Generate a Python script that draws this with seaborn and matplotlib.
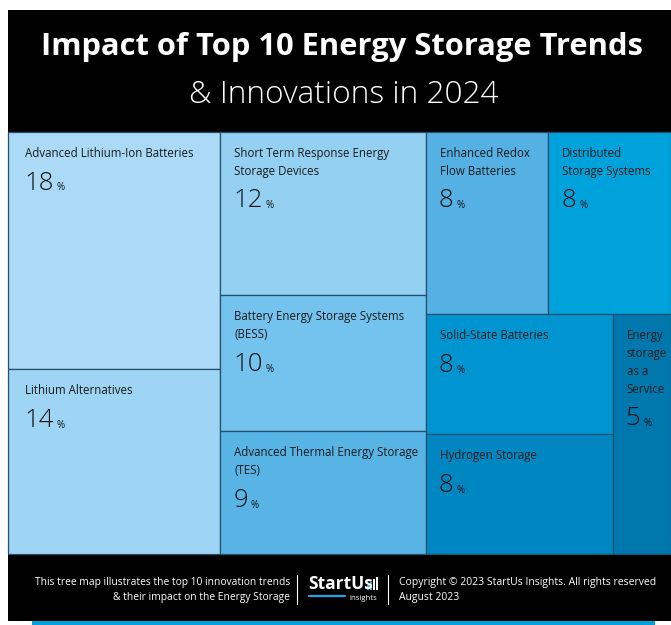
import matplotlib
matplotlib.use("Agg")
import matplotlib.pyplot as plt
import seaborn as sns
from matplotlib.patches import Rectangle

sns.set_theme(style="white")
plt.rcParams['font.family'] = ['Open Sans', 'DejaVu Sans']

# ---------------- data ----------------
trends = [
    "Advanced Lithium-Ion Batteries",
    "Lithium Alternatives",
    "Short Term Response Energy\nStorage Devices",
    "Battery Energy Storage Systems\n(BESS)",
    "Advanced Thermal Energy Storage\n(TES)",
    "Enhanced Redox\nFlow Batteries",
    "Distributed\nStorage Systems",
    "Solid-State Batteries",
    "Hydrogen Storage",
    "Energy\nstorage\nas a\nService",
]
impact = [18, 14, 12, 10, 9, 8, 8, 8, 8, 5]
colors = ["#ABDAF6", "#9ED4F4", "#94D0F2", "#74C3EE", "#57B4E5",
          "#55B1E3", "#00A2DB", "#0095D1", "#0086C0", "#0078AD"]

title1 = "Impact of Top 10 Energy Storage Trends"
title2 = "& Innovations in 2024"
foot_left = "This tree map illustrates the top 10 innovation trends\n& their impact on the Energy Storage"
foot_right = "Copyright \u00a9 2023 StartUs Insights. All rights reserved\nAugust 2023"

# treemap slicing structure (indices into the lists above)
tree = ('h', [('v', [0, 1]), ('v', [2, 3, 4]),
              ('v', [('h', [5, 6]), ('h', [('v', [7, 8]), 9])])])


def total(node):
    if isinstance(node, int):
        return impact[node]
    return sum(total(c) for c in node[1])


def layout(node, x, y, w, h, out):
    if isinstance(node, int):
        out[node] = (x, y, w, h)
        return
    d, kids = node
    t = total(node)
    pos = 0.0
    for k in kids:
        f = total(k) / t
        if d == 'h':
            layout(k, x + pos * w, y, f * w, h, out)
        else:
            layout(k, x, y + pos * h, w, f * h, out)
        pos += f


W, H = 671, 625
fig = plt.figure(figsize=(W / 100, H / 100), dpi=100)
ax = fig.add_axes([0, 0, 1, 1])
ax.set_xlim(0, W)
ax.set_ylim(H, 0)
ax.axis('off')
fig.patch.set_facecolor('white')

# black card
ax.add_patch(Rectangle((8, 10), W - 8, 611, facecolor='black', edgecolor='none', zorder=0))
ax.add_patch(Rectangle((32, 621), 623, 4, facecolor='#00A2DB', edgecolor='none', zorder=1))

ax.text(342, 47, title1, color='white', fontsize=22.2, fontweight='bold',
        ha='center', va='center')
ax.text(344, 95, title2, color='white', fontsize=22.8, fontweight='light',
        ha='center', va='center')

# treemap
rects = {}
layout(tree, 8, 132, W - 8, 422, rects)
fig.canvas.draw()
renderer = fig.canvas.get_renderer()
for i in range(len(impact)):
    x, y, w, h = rects[i]
    ax.add_patch(Rectangle((x, y), w, h, facecolor=colors[i], edgecolor='#24506e',
                           linewidth=0.9, zorder=2))
    pad = 17 if x < 20 else 14
    tx = x + pad
    nlines = trends[i].count('\n') + 1
    ax.text(tx, y + 15, trends[i], fontsize=8.3, color='#1b1b1b', ha='left', va='top',
            linespacing=1.48, zorder=3)
    ny = y + 22 + 17.8 * (nlines - 1) + 29
    t = ax.text(tx - 1, ny, str(impact[i]), fontsize=18.5, fontweight='light',
                color='#111111', ha='left', va='center', zorder=3)
    bb = t.get_window_extent(renderer=renderer)
    xr = ax.transData.inverted().transform((bb.x1, bb.y0))[0]
    ax.text(xr + 3, ny + 5, "%", fontsize=7, color='#111111', ha='left',
            va='center', zorder=3)

# footer
ax.text(290, 590, foot_left, color='white', fontsize=7.4, ha='right', va='center',
        linespacing=1.5)
ax.plot([297, 297], [575, 604], color='white', lw=0.8)
ax.plot([388, 388], [575, 604], color='white', lw=0.8)
ax.text(308, 584, "StartUs", color='white', fontsize=12.5, fontweight='bold',
        ha='left', va='center')
ax.plot([309, 345], [595.5, 595.5], color='#1FA6E0', lw=1.6)
ax.text(377, 598, "insights", color='white', fontsize=5.6, ha='right', va='center')
for k, hb in enumerate([5, 8, 11, 13]):
    ax.add_patch(Rectangle((367 + k * 3, 590 - hb), 2, hb,
                           facecolor='#1FA6E0' if k < 2 else 'white', edgecolor='none'))
ax.text(399, 590, foot_right, color='white', fontsize=7.5, ha='left', va='center',
        linespacing=1.5)

fig.savefig("out.png", dpi=100, facecolor='white')
